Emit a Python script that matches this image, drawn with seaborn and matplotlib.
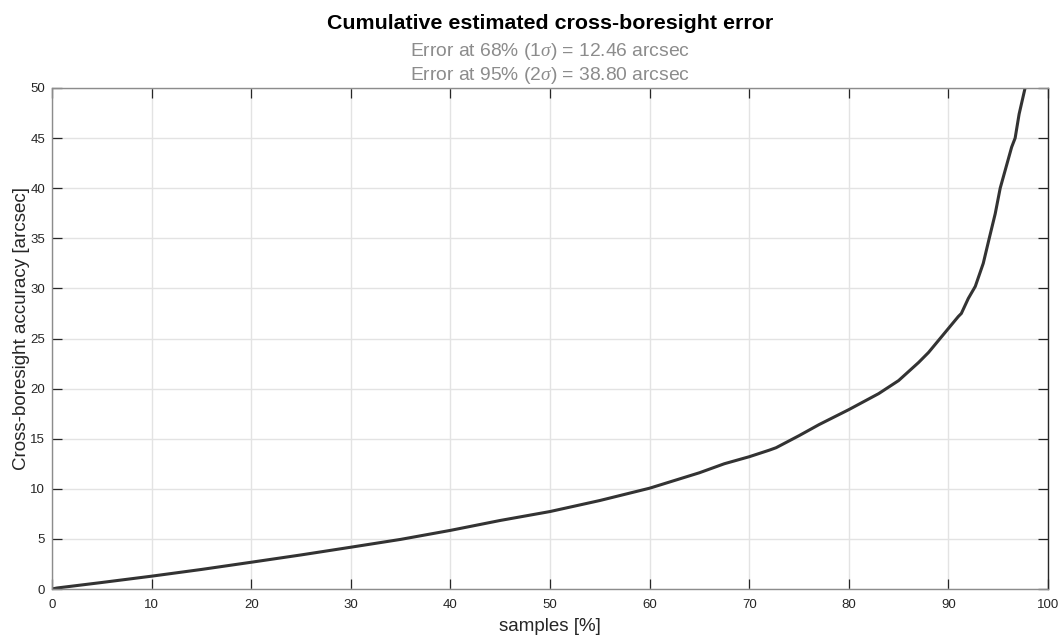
import matplotlib
matplotlib.use("Agg")
import matplotlib.pyplot as plt
import seaborn as sns
import pandas as pd

# Data (percent of samples vs error in arcsec)
samples_pct = [0, 0.5, 5, 10, 15, 20, 25, 30, 35, 40, 45, 50, 55, 60, 65, 67.5,
               70, 72, 72.7, 75, 77, 80, 83, 85, 87, 88, 89, 90, 91, 91.3, 92,
               92.7, 93.5, 94.1, 94.7, 95.2, 96.35, 96.7, 97.1, 97.7]
error_arcsec = [0, 0.1, 0.65, 1.28, 1.95, 2.67, 3.4, 4.17, 4.95, 5.85, 6.84, 7.73,
                8.83, 10.06, 11.6, 12.5, 13.2, 13.85, 14.1, 15.3, 16.4, 17.9, 19.5,
                20.8, 22.6, 23.6, 24.8, 26.0, 27.2, 27.5, 29.0, 30.2, 32.5, 35.0,
                37.45, 40.0, 44.1, 45.0, 47.4, 50.0]
x_ticks = [0, 10, 20, 30, 40, 50, 60, 70, 80, 90, 100]
y_ticks = [0, 5, 10, 15, 20, 25, 30, 35, 40, 45, 50]

title = "Cumulative estimated cross-boresight error"
sub1 = r"Error at 68% (1$\sigma$) = 12.46 arcsec"
sub2 = r"Error at 95% (2$\sigma$) = 38.80 arcsec"

sns.set_theme(style="whitegrid")
plt.rcParams["font.family"] = ["Liberation Sans", "DejaVu Sans"]
plt.rcParams["mathtext.fontset"] = "custom"
plt.rcParams["mathtext.it"] = "Liberation Serif:italic"
plt.rcParams["mathtext.rm"] = "Liberation Sans"

W, H = 1062, 635
fig = plt.figure(figsize=(W / 100, H / 100), dpi=100)
ax_l, ax_r, ax_t, ax_b = 52, 1048, 88, 589
ax = fig.add_axes([ax_l / W, 1 - ax_b / H, (ax_r - ax_l) / W, (ax_b - ax_t) / H])

df = pd.DataFrame({"samples": samples_pct, "error": error_arcsec})
sns.lineplot(data=df, x="samples", y="error", ax=ax, color="#333333",
             linewidth=2.2, sort=False, estimator=None)

ax.set_xlim(0, 100)
ax.set_ylim(0, 50)
ax.set_xticks(x_ticks)
ax.set_yticks(y_ticks)
ax.set_xticklabels([str(t) for t in x_ticks])
ax.set_yticklabels([str(t) for t in y_ticks])
ax.set_facecolor("white")
ax.grid(True, color="#e3e3e3", linewidth=1.0)
ax.tick_params(direction="in", length=7, width=0.9, color="#262626",
               labelsize=9.5, labelcolor="#262626", top=True, right=True,
               bottom=True, left=True)
ax.tick_params(axis="x", pad=7)
ax.tick_params(axis="y", pad=5)
for side in ["left", "bottom", "top"]:
    ax.spines[side].set_color("#8c8c8c")
    ax.spines[side].set_linewidth(1.0)
ax.spines["right"].set_color("#262626")
ax.spines["right"].set_linewidth(1.0)

ax.set_xlabel("samples [%]", fontsize=13.5, color="#262626")
ax.set_ylabel("Cross-boresight accuracy [arcsec]", fontsize=13.5, color="#262626")
ax.xaxis.set_label_coords(0.5, -(631 - ax_b) / (ax_b - ax_t), transform=ax.transAxes)
ax.xaxis.label.set_va("baseline")
ax.yaxis.set_label_coords(-(ax_l - 13) / (ax_r - ax_l), 0.52, transform=ax.transAxes)
ax.yaxis.label.set_va("top")

cx = (ax_l + ax_r) / 2 / W
fig.text(cx, 1 - 29 / H, title, ha="center", va="baseline",
         fontsize=15.4, fontweight="bold", color="black")
fig.text(cx, 1 - 56.5 / H, sub1, ha="center", va="baseline",
         fontsize=13.9, color="#8c8c8c")
fig.text(cx, 1 - 80.5 / H, sub2, ha="center", va="baseline",
         fontsize=13.9, color="#8c8c8c")

fig.savefig("out.png", dpi=100, facecolor="white")
